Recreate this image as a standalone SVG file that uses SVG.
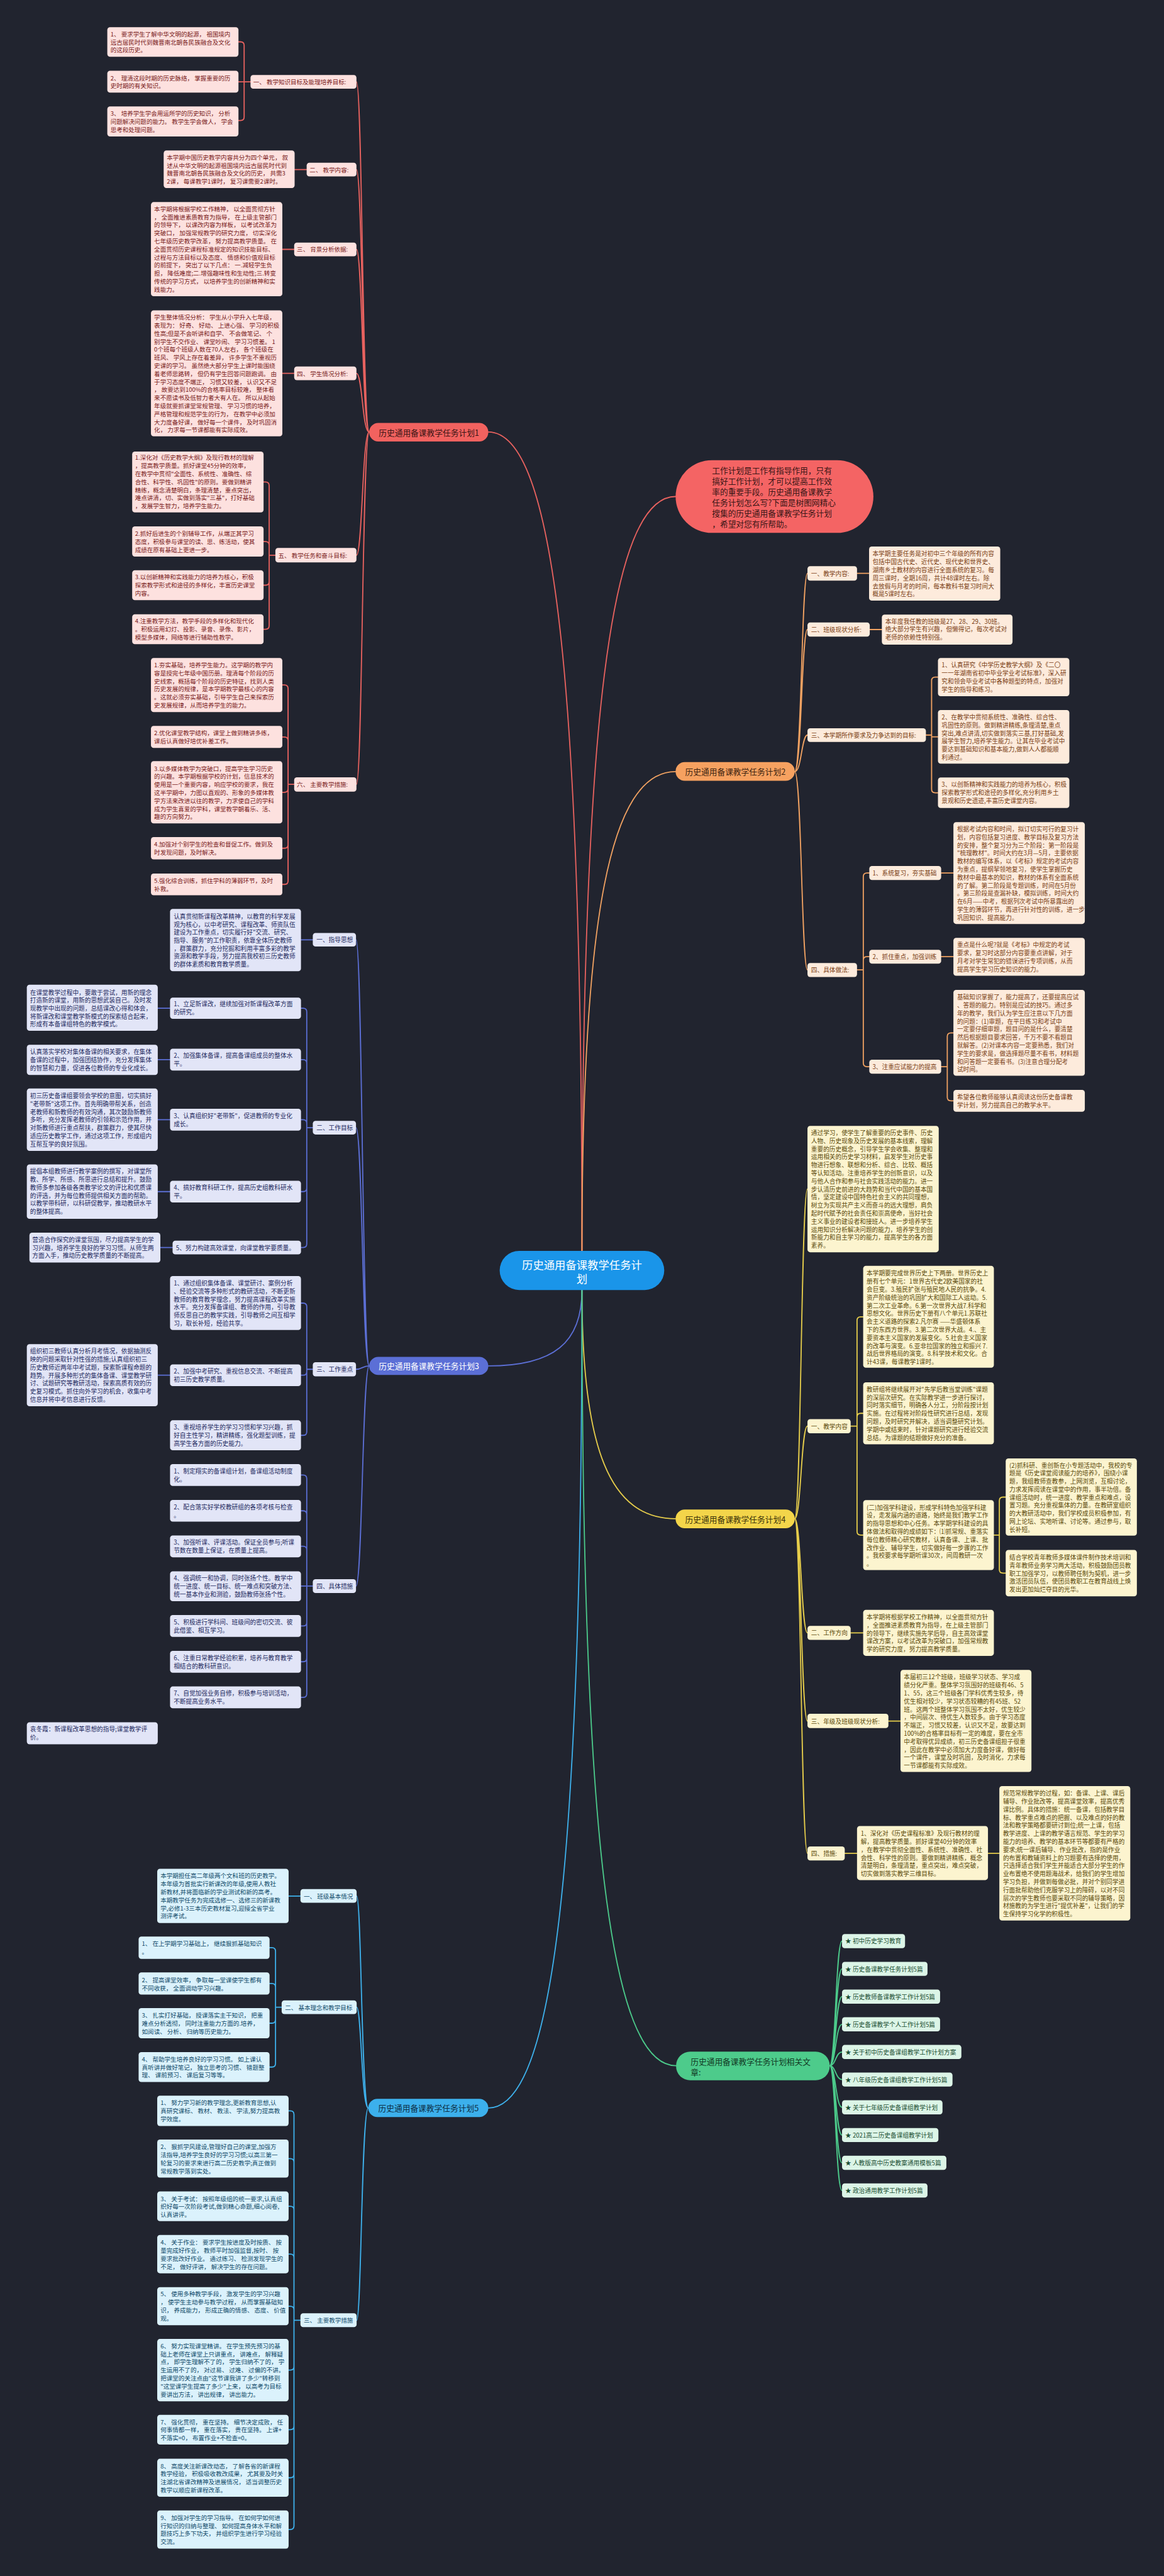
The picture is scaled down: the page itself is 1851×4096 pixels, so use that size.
<svg xmlns="http://www.w3.org/2000/svg" width="1851" height="4096" viewBox="0 0 1851 4096">
<style>
.t{font-family:"Noto Sans CJK SC","Noto Sans",sans-serif;dominant-baseline:central}
.s{font-size:13.4px}.s1{font-size:13.2px}.lb{font-size:17.6px}
.k{fill:none;stroke-width:2.5;stroke-linecap:round}
.k1{stroke:#e8625f}.k2{stroke:#f1a262}.k3{stroke:#5c6fd5}.k4{stroke:#e6cd4b}.k5{stroke:#3eb1ec}.k6{stroke:#4ccb8b}
.f1{fill:#fde1df}.x1{fill:#7a1b1b}
.f2{fill:#fdebdc}.x2{fill:#7b3f14}
.f3{fill:#e2e5f7}.x3{fill:#1e2a60}
.f4{fill:#fcf4cf}.x4{fill:#5b4a0a}
.f5{fill:#dbf2fc}.x5{fill:#0f4a69}
.f6{fill:#dcf5e7}.x6{fill:#1b4f33}
</style>
<rect width="1851" height="4096" fill="#21242f"/>
<g transform="scale(0.723)">
<g id="connectors">
<path class="k k1" d="M1280,2751 C1280,1490 1218,950 1074,950"/>
<path class="k k1" d="M1280,2751 C1280,1590 1342,1092 1486,1092"/>
<path class="k k2" d="M1280,2751 C1280,2013 1342,1697 1486,1697"/>
<path class="k k3" d="M1280,2837 C1280,2953 1218,3004 1074,3004"/>
<path class="k k4" d="M1280,2837 C1280,3189 1342,3340 1486,3340"/>
<path class="k k5" d="M1280,2837 C1280,4097 1218,4636 1074,4636"/>
<path class="k k6" d="M1280,2837 C1280,4036 1342,4543 1487,4543"/>
<path class="k k1" d="M812,950 C797,950 797,180 784,180 M812,950 C797,950 797,373 784,373 M812,950 C797,950 797,548.4 784,548.4 M812,950 C797,950 797,821 784,821 M812,950 C797,950 797,1221 784,1221 M812,950 C797,950 797,1725 784,1725"/>
<path class="k k1" d="M551,180 H537 V100 Q537,92 529,92 H524.5 M551,180 H524.5 M551,180 H537 V257 Q537,265 529,265 H524.5 M674.5,373 H648 M647,548.4 H621 M647,821 H621"/>
<path class="k k1" d="M605.7,1221 H592 V1068 Q592,1060 584,1060 H579.6 M605.7,1221 H592 V1199 Q592,1191 584,1191 H579.6 M605.7,1221 H592 V1279 Q592,1287 584,1287 H579.6 M605.7,1221 H592 V1376 Q592,1384 584,1384 H579.6"/>
<path class="k k1" d="M647,1725 H633.6 V1514.5 Q633.6,1506.5 625.6,1506.5 H621 M647,1725 H633.6 V1628.8 Q633.6,1620.8 625.6,1620.8 H621 M647,1725 H633.6 V1734.5 Q633.6,1742.5 625.6,1742.5 H621 M647,1725 H633.6 V1857.5 Q633.6,1865.5 625.6,1865.5 H621 M647,1725 H633.6 V1937 Q633.6,1945 625.6,1945 H621"/>
<path class="k k2" d="M1748,1697 C1763,1697 1763,1261 1776,1261 M1748,1697 C1763,1697 1763,1384.5 1776,1384.5 M1748,1697 C1763,1697 1763,1616.5 1776,1616.5 M1748,1697 C1763,1697 1763,2133 1776,2133"/>
<path class="k k2" d="M1885,1261 H1911.5 M1913,1384.5 H1939.6 M2036.5,1616.5 H2049 V1497 Q2049,1489 2057,1489 H2063 M2036.5,1616.5 H2049 V1620.6 H2063 M2036.5,1616.5 H2049 V1735.5 Q2049,1743.5 2057,1743.5 H2063"/>
<path class="k k2" d="M1885,2133 H1898.8 V1928 Q1898.8,1920 1906.8,1920 H1912 M1885,2133 H1898.8 V2112 Q1898.8,2104 1906.8,2104 H1912 M1885,2133 H1898.8 V2338 Q1898.8,2346 1906.8,2346 H1912 M2070,1920 H2097 M2070,2104 H2097 M2070,2346 H2083.5 V2279.5 Q2083.5,2271.5 2091.5,2271.5 H2097 M2070,2346 H2083.5 V2413 Q2083.5,2421 2091.5,2421 H2097"/>
<path class="k k3" d="M812,3004 C797,3004 797,2067 783,2067 M812,3004 C797,3004 797,2480 783,2480 M812,3004 C797,3004 797,3011.4 783,3011.4 M812,3004 C797,3004 797,3488 783,3488"/>
<path class="k k3" d="M688,2067 H662 M688,2480 H674.7 V2225.3 Q674.7,2217.3 666.7,2217.3 H662 M688,2480 H674.7 V2338.5 Q674.7,2330.5 666.7,2330.5 H662 M688,2480 H674.7 V2470.4 Q674.7,2462.4 666.7,2462.4 H662 M688,2480 H674.7 V2612.7 Q674.7,2620.7 666.7,2620.7 H662 M688,2480 H674.7 V2735.6 Q674.7,2743.6 666.7,2743.6 H662 M374,2217.3 H347 M374,2330.5 H347 M374,2462.4 H347 M374,2620.7 H347 M379.6,2743.6 H352.7"/>
<path class="k k3" d="M688,3011.4 H674.7 V2873.8 Q674.7,2865.8 666.7,2865.8 H662 M688,3011.4 H674.7 V3016.5 Q674.7,3024.5 666.7,3024.5 H662 M688,3011.4 H674.7 V3148.6 Q674.7,3156.6 666.7,3156.6 H662 M374,3024.5 H347"/>
<path class="k k3" d="M688,3488 H674.7 V3252 Q674.7,3244 666.7,3244 H662 M688,3488 H674.7 V3330.6 Q674.7,3322.6 666.7,3322.6 H662 M688,3488 H674.7 V3408.7 Q674.7,3400.7 666.7,3400.7 H662 M688,3488 H662 M688,3488 H674.7 V3568 Q674.7,3576 666.7,3576 H662 M688,3488 H674.7 V3646.6 Q674.7,3654.6 666.7,3654.6 H662 M688,3488 H674.7 V3725 Q674.7,3733 666.7,3733 H662"/>
<path class="k k4" d="M1748,3340 C1762,3340 1762,2615 1776,2615 M1748,3340 C1762,3340 1762,3136.5 1776,3136.5 M1748,3340 C1762,3340 1762,3591 1776,3591 M1748,3340 C1762,3340 1762,3785 1776,3785 M1748,3340 C1762,3340 1762,4076 1776,4076"/>
<path class="k k4" d="M1870.8,3136.5 H1885 V2904 Q1885,2896 1893,2896 H1898.5 M1870.8,3136.5 H1885 V3116.2 Q1885,3108.2 1893,3108.2 H1898.5 M1870.8,3136.5 H1885 V3368 Q1885,3376 1893,3376 H1898.5 M2186,3376 H2198 V3300.5 Q2198,3292.5 2206,3292.5 H2212 M2186,3376 H2198 V3451.6 Q2198,3459.6 2206,3459.6 H2212 M1870.8,3591 H1898.5 M1954,3785 H1980.6 M1858,4076 H1885 M2173,4076 H2198"/>
<path class="k k5" d="M810,4636 C795,4636 795,4170 784.4,4170 M810,4636 C795,4636 795,4414.5 784.4,4414.5 M810,4636 C795,4636 795,5103 784.4,5103"/>
<path class="k k5" d="M660.8,4170 H634.8 M619.5,4414.5 H606 V4291.5 Q606,4283.5 598,4283.5 H593 M619.5,4414.5 H606 V4370.2 Q606,4362.2 598,4362.2 H593 M619.5,4414.5 H606 V4441.5 Q606,4449.5 598,4449.5 H593 M619.5,4414.5 H606 V4538 Q606,4546 598,4546 H593"/>
<path class="k k5" d="M660.8,5103 H646.6 V4650.3 Q646.6,4642.3 638.6,4642.3 H634.8 M660.8,5103 H646.6 V4755.3 Q646.6,4747.3 638.6,4747.3 H634.8 M660.8,5103 H646.6 V4860.2 Q646.6,4852.2 638.6,4852.2 H634.8 M660.8,5103 H646.6 V4965.4 Q646.6,4957.4 638.6,4957.4 H634.8 M660.8,5103 H646.6 V5080 Q646.6,5072 638.6,5072 H634.8 M660.8,5103 H646.6 V5204.5 Q646.6,5212.5 638.6,5212.5 H634.8 M660.8,5103 H646.6 V5335.5 Q646.6,5343.5 638.6,5343.5 H634.8 M660.8,5103 H646.6 V5441.2 Q646.6,5449.2 638.6,5449.2 H634.8 M660.8,5103 H646.6 V5555 Q646.6,5563 638.6,5563 H634.8"/>
<path class="k k6" d="M1825,4543 C1838,4543 1838,4269 1852,4269 M1825,4543 C1838,4543 1838,4330 1852,4330 M1825,4543 C1838,4543 1838,4391 1852,4391 M1825,4543 C1838,4543 1838,4452 1852,4452 M1825,4543 C1838,4543 1838,4513 1852,4513 M1825,4543 C1838,4543 1838,4573.5 1852,4573.5 M1825,4543 C1838,4543 1838,4634.5 1852,4634.5 M1825,4543 C1838,4543 1838,4695.5 1852,4695.5 M1825,4543 C1838,4543 1838,4756.5 1852,4756.5 M1825,4543 C1838,4543 1838,4817.5 1852,4817.5"/>
</g>

<g id="center"><rect x="1099" y="2751" width="362" height="86" rx="43" fill="#1a95e9"/><text class="t" font-size="24" fill="#ffffff" text-anchor="middle" x="1280" y="2780"><tspan x="1280">历史通用备课教学任务计</tspan><tspan x="1280" dy="30">划</tspan></text></g>

<g id="summary"><rect x="1486" y="1012" width="435" height="160" rx="80" fill="#f46464"/><text class="t lb" fill="#3a1616" x="1566" y="1033"><tspan x="1566">工作计划是工作有指导作用，只有</tspan><tspan x="1566" dy="23.6">搞好工作计划，才可以提高工作效</tspan><tspan x="1566" dy="23.6">率的重要手段。历史通用备课教学</tspan><tspan x="1566" dy="23.6">任务计划怎么写?下面是树图网精心</tspan><tspan x="1566" dy="23.6">搜集的历史通用备课教学任务计划</tspan><tspan x="1566" dy="23.6">，希望对您有所帮助。</tspan></text></g>

<g id="branch1"><rect x="812" y="930" width="262" height="41" rx="20" fill="#f2625f"/><text class="t lb" fill="#3a1414" x="833" y="950.5">历史通用备课教学任务计划1</text></g>
<g id="branch2"><rect x="1486" y="1676" width="262" height="41" rx="20" fill="#f6a160"/><text class="t lb" fill="#3d2410" x="1507" y="1697">历史通用备课教学任务计划2</text></g>
<g id="branch3"><rect x="812" y="2984" width="262" height="40" rx="20" fill="#5b6fd6"/><text class="t lb" fill="#ffffff" x="833" y="3004">历史通用备课教学任务计划3</text></g>
<g id="branch4"><rect x="1486" y="3320" width="262" height="41" rx="20" fill="#f3d54a"/><text class="t lb" fill="#3d340a" x="1507" y="3340.5">历史通用备课教学任务计划4</text></g>
<g id="branch5"><rect x="810" y="4616" width="264" height="40" rx="20" fill="#3cb0ec"/><text class="t lb" fill="#0d2f45" x="832" y="4636">历史通用备课教学任务计划5</text></g>
<g id="branch6"><rect x="1487" y="4512" width="338" height="63" rx="31" fill="#4dcb8b"/><text class="t lb" fill="#123a25" x="1519" y="4532"><tspan x="1519">历史通用备课教学任务计划相关文</tspan><tspan x="1519" dy="23.5">章:</tspan></text></g>

<g id="b1-l1"><rect class="f1" x="551" y="165" width="233" height="30" rx="6"/><text class="t s1 x1" x="557" y="180">一、 教学知识目标及能理培养目标:</text></g>
<g id="b1-1a"><rect class="f1" x="236" y="59.7" width="288.5" height="65" rx="6"/><text class="t s1 x1" x="243" y="74.5"><tspan x="243">1、 要求学生了解中华文明的起源， 祖国境内</tspan><tspan x="243" dy="17.5">远古居民时代到魏晋南北朝各民族融合及文化</tspan><tspan x="243" dy="17.5">的这段历史。</tspan></text></g>
<g id="b1-1b"><rect class="f1" x="236" y="155.6" width="288.5" height="48.2" rx="6"/><text class="t s1 x1" x="243" y="171"><tspan x="243">2、 理清这段时期的历史脉络， 掌握重要的历</tspan><tspan x="243" dy="17.5">史时期的有关知识。</tspan></text></g>
<g id="b1-1c"><rect class="f1" x="236" y="234" width="288.5" height="66" rx="6"/><text class="t s1 x1" x="243" y="249.6"><tspan x="243">3、 培养学生学会用运所学的历史知识， 分析</tspan><tspan x="243" dy="17.5">问题解决问题的能力。 教学生学会做人， 学会</tspan><tspan x="243" dy="17.5">思考和处理问题。</tspan></text></g>
<g id="b1-l2"><rect class="f1" x="674.5" y="358" width="109.5" height="30" rx="6"/><text class="t s1 x1" x="681" y="373">二、 教学内容:</text></g>
<g id="b1-2"><rect class="f1" x="360" y="331" width="288" height="82.5" rx="6"/><text class="t s1 x1" x="367" y="345.5"><tspan x="367">本学期中国历史教学内容共分为四个单元， 叙</tspan><tspan x="367" dy="17.7">述从中华文明的起源祖国境内远古居民时代到</tspan><tspan x="367" dy="17.7">魏晋南北朝各民族融合及文化的历史， 共需3</tspan><tspan x="367" dy="17.7">2课， 每课教学1课时， 复习课需要2课时。</tspan></text></g>
<g id="b1-l3"><rect class="f1" x="647" y="533.6" width="137" height="30" rx="6"/><text class="t s1 x1" x="653" y="548.4">三、 背景分析依据:</text></g>
<g id="b1-3"><rect class="f1" x="332" y="444.5" width="289" height="207" rx="6"/><text class="t s1 x1" x="339" y="459"><tspan x="339">本学期将根据学校工作精神， 以全面贯彻方针</tspan><tspan x="339" dy="17.7">， 全面推进素质教育为指导， 在上级主管部门</tspan><tspan x="339" dy="17.7">的领导下， 以课改内容为样板， 以考试改革为</tspan><tspan x="339" dy="17.7">突破口， 加强常规教学的研究力度， 切实深化</tspan><tspan x="339" dy="17.7">七年级历史教学改革， 努力提高教学质量。 在</tspan><tspan x="339" dy="17.7">全面贯彻历史课程标准规定的知识技能目标、</tspan><tspan x="339" dy="17.7">过程与方法目标以及态度、 情感和价值观目标</tspan><tspan x="339" dy="17.7">的前提下， 突出了以下几点： 一.减轻学生负</tspan><tspan x="339" dy="17.7">担， 降低难度;二.增强趣味性和生动性;三.转变</tspan><tspan x="339" dy="17.7">传统的学习方式， 以培养学生的创新精神和实</tspan><tspan x="339" dy="17.7">践能力。</tspan></text></g>
<g id="b1-l4"><rect class="f1" x="647" y="806" width="137" height="30" rx="6"/><text class="t s1 x1" x="653" y="821">四、 学生情况分析:</text></g>
<g id="b1-4"><rect class="f1" x="332" y="682.6" width="289" height="277" rx="6"/><text class="t s1 x1" x="339" y="697.5"><tspan x="339">学生整体情况分析： 学生从小学升入七年级，</tspan><tspan x="339" dy="17.7">表现为： 好奇、 好动、 上进心强、 学习的积极</tspan><tspan x="339" dy="17.7">性高;但是不会听讲和自学、 不会做笔记、 个</tspan><tspan x="339" dy="17.7">别学生不交作业、 课堂吵闹、 学习习惯差。 1</tspan><tspan x="339" dy="17.7">0个班每个班级人数在70人左右， 各个班级在</tspan><tspan x="339" dy="17.7">班风、 学风上存在着差异， 许多学生不重视历</tspan><tspan x="339" dy="17.7">史课的学习。 虽然绝大部分学生上课时能围绕</tspan><tspan x="339" dy="17.7">着老师思路转， 但仍有学生回答问题跑调。 由</tspan><tspan x="339" dy="17.7">于学习态度不端正， 习惯又较差， 认识又不足</tspan><tspan x="339" dy="17.7">， 故要达到100%的合格率目标较难， 整体看</tspan><tspan x="339" dy="17.7">来不愿读书及低智力者大有人在。 所以从起始</tspan><tspan x="339" dy="17.7">年级就要抓课堂常规管理、 学习习惯的培养，</tspan><tspan x="339" dy="17.7">严格管理和规范学生的行为， 在教学中必须加</tspan><tspan x="339" dy="17.7">大力度备好课， 做好每一个课件， 及时巩固消</tspan><tspan x="339" dy="17.7">化， 力求每一节课都能有实际成效。</tspan></text></g>
<g id="b1-l5"><rect class="f1" x="605.7" y="1205" width="178.3" height="32" rx="6"/><text class="t s1 x1" x="612" y="1221">五、 教学任务和奋斗目标:</text></g>
<g id="b1-5a"><rect class="f1" x="290.7" y="993" width="289" height="134" rx="6"/><text class="t s1 x1" x="297" y="1006"><tspan x="297">1.深化对《历史教学大纲》及现行教材的理解</tspan><tspan x="297" dy="17.7">，提高教学质量。抓好课堂45分钟的效率，</tspan><tspan x="297" dy="17.7">在教学中贯彻"全面性、系统性、准确性、综</tspan><tspan x="297" dy="17.7">合性、科学性、巩固性"的原则。要做到精讲</tspan><tspan x="297" dy="17.7">精练，概念清楚明白，条理清楚，重点突出，</tspan><tspan x="297" dy="17.7">难点讲清，切、实做到落实"三基"，打好基础</tspan><tspan x="297" dy="17.7">，发展学生智力，培养学生能力。</tspan></text></g>
<g id="b1-5b"><rect class="f1" x="290.7" y="1157.7" width="289" height="66.3" rx="6"/><text class="t s1 x1" x="297" y="1173"><tspan x="297">2.抓好后进生的个别辅导工作，从端正其学习</tspan><tspan x="297" dy="17.7">态度，积极参与课堂的读、思、练活动，使其</tspan><tspan x="297" dy="17.7">成绩在原有基础上更进一步。</tspan></text></g>
<g id="b1-5c"><rect class="f1" x="290.7" y="1254" width="289" height="66" rx="6"/><text class="t s1 x1" x="297" y="1269"><tspan x="297">3.以创新精神和实践能力的培养为核心，积极</tspan><tspan x="297" dy="17.7">探索教学形式和途径的多样化，丰富历史课堂</tspan><tspan x="297" dy="17.7">内容。</tspan></text></g>
<g id="b1-5d"><rect class="f1" x="290.7" y="1351" width="289" height="65.7" rx="6"/><text class="t s1 x1" x="297" y="1365.6"><tspan x="297">4.注重教学方法，教学手段的多样化和现代化</tspan><tspan x="297" dy="17.7">。积极运用幻灯、投影、录音、录像、影片，</tspan><tspan x="297" dy="17.7">模型多媒体，网络等进行辅助性教学。</tspan></text></g>
<g id="b1-l6"><rect class="f1" x="647" y="1709.4" width="137" height="31.6" rx="6"/><text class="t s1 x1" x="653" y="1725">六、 主要教学措施:</text></g>
<g id="b1-6a"><rect class="f1" x="332" y="1447" width="289" height="119" rx="6"/><text class="t s1 x1" x="339" y="1462"><tspan x="339">1.夯实基础，培养学生能力。这学期的教学内</tspan><tspan x="339" dy="17.7">容是授完七年级中国历册。理清每个阶段的历</tspan><tspan x="339" dy="17.7">史线索，概括每个阶段的历史特征，找到人类</tspan><tspan x="339" dy="17.7">历史发展的规律，是本学期教学最核心的内容</tspan><tspan x="339" dy="17.7">。这就必须夯实基础，引导学生自己来探索历</tspan><tspan x="339" dy="17.7">史发展规律，从而培养学生的能力。</tspan></text></g>
<g id="b1-6b"><rect class="f1" x="332" y="1596.5" width="289" height="48.5" rx="6"/><text class="t s1 x1" x="339" y="1611"><tspan x="339">2.优化课堂教学结构，课堂上做到精讲多练，</tspan><tspan x="339" dy="17.7">课后认真做好培优补差工作。</tspan></text></g>
<g id="b1-6c"><rect class="f1" x="332" y="1674" width="289" height="137" rx="6"/><text class="t s1 x1" x="339" y="1689.6"><tspan x="339">3.以多媒体教学为突破口，提高学生学习历史</tspan><tspan x="339" dy="17.7">的兴趣。本学期根据学校的计划，信息技术的</tspan><tspan x="339" dy="17.7">使用是一个重要内容，响应学校的要求，我在</tspan><tspan x="339" dy="17.7">这半学期中，力图以直观的、形象的多媒体教</tspan><tspan x="339" dy="17.7">学方法来改进以往的教学，力求使自己的学科</tspan><tspan x="339" dy="17.7">成为学生喜爱的学科，课堂教学朝着乐、活、</tspan><tspan x="339" dy="17.7">趣的方向努力。</tspan></text></g>
<g id="b1-6d"><rect class="f1" x="332" y="1841" width="289" height="49" rx="6"/><text class="t s1 x1" x="339" y="1856.7"><tspan x="339">4.加强对个别学生的检查和督促工作。做到及</tspan><tspan x="339" dy="17.7">时发现问题，及时解决。</tspan></text></g>
<g id="b1-6e"><rect class="f1" x="332" y="1921" width="289" height="48" rx="6"/><text class="t s1 x1" x="339" y="1936"><tspan x="339">5.强化综合训练，抓住学科的薄弱环节，及时</tspan><tspan x="339" dy="17.7">补救。</tspan></text></g>

<g id="b2-l1"><rect class="f2" x="1776" y="1245" width="109" height="32" rx="6"/><text class="t s x2" x="1784" y="1261">一、教学内容:</text></g>
<g id="b2-1"><rect class="f2" x="1911.5" y="1202" width="288.5" height="119" rx="6"/><text class="t s x2" x="1919" y="1217.6"><tspan x="1919">本学期主要任务是对初中三个年级的所有内容</tspan><tspan x="1919" dy="17.7">包括中国古代史、近代史、现代史和世界史、</tspan><tspan x="1919" dy="17.7">湖南乡土教材的内容进行全面系统的复习。每</tspan><tspan x="1919" dy="17.7">周三课时，全期16周，共计48课时左右。除</tspan><tspan x="1919" dy="17.7">去放假与月考的时间，每本教科书复习时间大</tspan><tspan x="1919" dy="17.7">概是5课时左右。</tspan></text></g>
<g id="b2-l2"><rect class="f2" x="1776" y="1369" width="137" height="31" rx="6"/><text class="t s x2" x="1784" y="1384.5">二、班级现状分析:</text></g>
<g id="b2-2"><rect class="f2" x="1939.6" y="1351.6" width="287.4" height="66" rx="6"/><text class="t s x2" x="1947" y="1366"><tspan x="1947">本年度我任教的班级是27、28、29、30班。</tspan><tspan x="1947" dy="17.7">绝大部分学生有兴趣，但懒得记，每次考试对</tspan><tspan x="1947" dy="17.7">老师的依赖性特别强。</tspan></text></g>
<g id="b2-l3"><rect class="f2" x="1776" y="1601.7" width="260.5" height="30" rx="6"/><text class="t s x2" x="1784" y="1616.5">三、本学期所作要求及力争达到的目标:</text></g>
<g id="b2-3a"><rect class="f2" x="2063" y="1447" width="289" height="84" rx="6"/><text class="t s x2" x="2071" y="1462.5"><tspan x="2071">1、认真研究《中学历史教学大纲》及《二〇</tspan><tspan x="2071" dy="17.7">一一年湖南省初中毕业学业考试标准》，深入研</tspan><tspan x="2071" dy="17.7">究和领会毕业考试中各种题型的特点，加强对</tspan><tspan x="2071" dy="17.7">学生的指导和练习。</tspan></text></g>
<g id="b2-3b"><rect class="f2" x="2063" y="1561.6" width="289" height="118" rx="6"/><text class="t s x2" x="2071" y="1576.7"><tspan x="2071">2、在教学中贯彻系统性、准确性、综合性、</tspan><tspan x="2071" dy="17.7">巩固性的原则。做到精讲精练,条理清楚,重点</tspan><tspan x="2071" dy="17.7">突出,难点讲清,切实做到落实三基,打好基础,发</tspan><tspan x="2071" dy="17.7">展学生智力,培养学生能力。让其在毕业考试中</tspan><tspan x="2071" dy="17.7">要达到基础知识和基本能力,做到人人都能顺</tspan><tspan x="2071" dy="17.7">利通过。</tspan></text></g>
<g id="b2-3c"><rect class="f2" x="2063" y="1710" width="289" height="67" rx="6"/><text class="t s x2" x="2071" y="1725"><tspan x="2071">3、以创新精神和实践能力的培养为核心，积极</tspan><tspan x="2071" dy="17.7">探索教学形式和途径的多样化,充分利用乡土</tspan><tspan x="2071" dy="17.7">景观和历史遗迹,丰富历史课堂内容。</tspan></text></g>
<g id="b2-l4"><rect class="f2" x="1776" y="2118" width="109" height="30.6" rx="6"/><text class="t s x2" x="1784" y="2133">四、具体做法:</text></g>
<g id="b2-4a"><rect class="f2" x="1912" y="1904.6" width="158" height="30.6" rx="6"/><text class="t s x2" x="1919" y="1920">1、系统复习，夯实基础</text></g>
<g id="b2-4b"><rect class="f2" x="1912" y="2088.7" width="158" height="30.6" rx="6"/><text class="t s x2" x="1919" y="2104">2、抓住重点，加强训练</text></g>
<g id="b2-4c"><rect class="f2" x="1912" y="2330.7" width="158" height="30.6" rx="6"/><text class="t s x2" x="1919" y="2346">3、注重应试能力的提高</text></g>
<g id="b2-4a1"><rect class="f2" x="2097" y="1808" width="289" height="224" rx="6"/><text class="t s x2" x="2105" y="1823"><tspan x="2105">根据考试内容和时间，拟订切实可行的复习计</tspan><tspan x="2105" dy="17.7">划，内容包括复习进度、教学目标及复习方法</tspan><tspan x="2105" dy="17.7">的安排，整个复习分为三个阶段：第一阶段是</tspan><tspan x="2105" dy="17.7">"梳理教材"。时间大约在3月—5月，主要依据</tspan><tspan x="2105" dy="17.7">教材的编写体系，以《考标》规定的考试内容</tspan><tspan x="2105" dy="17.7">为重点，提纲挈领地复习，使学生掌握历史</tspan><tspan x="2105" dy="17.7">教材中最基本的知识，教材的体系有全面系统</tspan><tspan x="2105" dy="17.7">的了解。第二阶段是专题训练，时间在5月份</tspan><tspan x="2105" dy="17.7">。第三阶段是查漏补缺，模拟训练，时间大约</tspan><tspan x="2105" dy="17.7">在6月——中考，根据列次考试中所暴露出的</tspan><tspan x="2105" dy="17.7">学生的薄弱环节，再进行针对性的训练，进一步</tspan><tspan x="2105" dy="17.7">巩固知识、提高能力。</tspan></text></g>
<g id="b2-4b1"><rect class="f2" x="2097" y="2062.7" width="289" height="83.3" rx="6"/><text class="t s x2" x="2105" y="2078"><tspan x="2105">重点是什么呢?就是《考标》中规定的考试</tspan><tspan x="2105" dy="17.7">要求，复习时这部分内容要重点讲解，对于</tspan><tspan x="2105" dy="17.7">月考对学生常犯的错误进行专项训练，从而</tspan><tspan x="2105" dy="17.7">提高学生学习历史知识的能力。</tspan></text></g>
<g id="b2-4c1"><rect class="f2" x="2097" y="2177" width="289" height="189" rx="6"/><text class="t s x2" x="2105" y="2192.5"><tspan x="2105">基础知识掌握了，能力提高了，还要提高应试</tspan><tspan x="2105" dy="17.7">、答题的能力。特别是应试的技巧。通过多</tspan><tspan x="2105" dy="17.7">年的教学，我们认为学生应注意以下几方面</tspan><tspan x="2105" dy="17.7">的问题：(1)审题，在平日练习和考试中</tspan><tspan x="2105" dy="17.7">一定要仔细审题，题目问的是什么，要清楚</tspan><tspan x="2105" dy="17.7">然后根据题目要求回答，千万不要不看题目</tspan><tspan x="2105" dy="17.7">就解答。(2)对课本内容一定要熟悉，我们对</tspan><tspan x="2105" dy="17.7">学生的要求是，做选择题尽量不看书，材料题</tspan><tspan x="2105" dy="17.7">和问答题一定要看书。(3)注意合理分配考</tspan><tspan x="2105" dy="17.7">试时间。</tspan></text></g>
<g id="b2-4c2"><rect class="f2" x="2097" y="2397" width="289" height="48" rx="6"/><text class="t s x2" x="2105" y="2412"><tspan x="2105">希望各位教师能够认真阅读这份历史备课教</tspan><tspan x="2105" dy="17.7">学计划，努力提高自己的教学水平。</tspan></text></g>

<g id="b3-l1"><rect class="f3" x="688" y="2051.7" width="95" height="30" rx="6"/><text class="t s x3" x="696" y="2067">一、指导思想</text></g>
<g id="b3-1"><rect class="f3" x="374" y="1999" width="288" height="137" rx="6"/><text class="t s x3" x="382" y="2015"><tspan x="382">认真贯彻新课程改革精神，以教育的科学发展</tspan><tspan x="382" dy="17.6">观为核心，以中考研究、课程改革、师资队伍</tspan><tspan x="382" dy="17.6">建设为工作重点，切实履行好"交流、研究、</tspan><tspan x="382" dy="17.6">指导、服务"的工作职责，依靠全体历史教师</tspan><tspan x="382" dy="17.6">，群策群力，充分挖掘和利用丰富多彩的教学</tspan><tspan x="382" dy="17.6">资源和教学手段，努力提高我校初三历史教师</tspan><tspan x="382" dy="17.6">的群体素质和教育教学质量。</tspan></text></g>
<g id="b3-l2"><rect class="f3" x="688" y="2465" width="95" height="30" rx="6"/><text class="t s x3" x="696" y="2480">二、工作目标</text></g>
<g id="b3-2a"><rect class="f3" x="374" y="2194" width="288" height="46.6" rx="6"/><text class="t s x3" x="382" y="2208"><tspan x="382">1、立足新课改，继续加强对新课程改革方面</tspan><tspan x="382" dy="17.6">的研究。</tspan></text></g>
<g id="b3-2b"><rect class="f3" x="374" y="2306.5" width="288" height="48" rx="6"/><text class="t s x3" x="382" y="2321.5"><tspan x="382">2、加强集体备课，提高备课组成员的整体水</tspan><tspan x="382" dy="17.6">平。</tspan></text></g>
<g id="b3-2c"><rect class="f3" x="374" y="2438.4" width="288" height="48" rx="6"/><text class="t s x3" x="382" y="2453.4"><tspan x="382">3、认真组织好"老带新"，促进教师的专业化</tspan><tspan x="382" dy="17.6">成长。</tspan></text></g>
<g id="b3-2d"><rect class="f3" x="374" y="2596.7" width="288" height="48" rx="6"/><text class="t s x3" x="382" y="2612"><tspan x="382">4、搞好教育科研工作，提高历史组教科研水</tspan><tspan x="382" dy="17.6">平。</tspan></text></g>
<g id="b3-2e"><rect class="f3" x="379.6" y="2728.6" width="282.4" height="30" rx="6"/><text class="t s x3" x="387" y="2743.6">5、努力构建高效课堂，向课堂教学要质量。</text></g>
<g id="b3-2a1"><rect class="f3" x="59" y="2165.7" width="288" height="101.3" rx="6"/><text class="t s x3" x="66" y="2182"><tspan x="66">在课堂教学过程中，要敢于尝试，用新的理念</tspan><tspan x="66" dy="17.6">打造新的课堂，用新的思想武装自己。及时发</tspan><tspan x="66" dy="17.6">现教学中出现的问题，总结课改心得和体会，</tspan><tspan x="66" dy="17.6">将新课改和课堂教学新模式的探索结合起来，</tspan><tspan x="66" dy="17.6">形成有本备课组特色的教学模式。</tspan></text></g>
<g id="b3-2b1"><rect class="f3" x="59" y="2297.6" width="288" height="66.4" rx="6"/><text class="t s x3" x="66" y="2313"><tspan x="66">认真落实学校对集体备课的相关要求，在集体</tspan><tspan x="66" dy="17.6">备课的过程中，加强团结协作，充分发挥集体</tspan><tspan x="66" dy="17.6">的智慧和力量，促进各位教师的专业化成长。</tspan></text></g>
<g id="b3-2c1"><rect class="f3" x="59" y="2394" width="288" height="137" rx="6"/><text class="t s x3" x="66" y="2409.7"><tspan x="66">初三历史备课组要领会学校的意图，切实搞好</tspan><tspan x="66" dy="17.6">"老带新"这项工作。首先明确带帮关系，创造</tspan><tspan x="66" dy="17.6">老教师和新教师的有效沟通，其次鼓励新教师</tspan><tspan x="66" dy="17.6">多听，充分发挥老教师的引领和示范作用，并</tspan><tspan x="66" dy="17.6">对新教师进行重点帮扶，群策群力，使其尽快</tspan><tspan x="66" dy="17.6">适应历史教学工作，通过这项工作，形成组内</tspan><tspan x="66" dy="17.6">互帮互学的良好氛围。</tspan></text></g>
<g id="b3-2d1"><rect class="f3" x="59" y="2561" width="288" height="119.6" rx="6"/><text class="t s x3" x="66" y="2576"><tspan x="66">提倡本组教师进行教学案例的撰写，对课堂所</tspan><tspan x="66" dy="17.6">教、所学、所感、所思进行总结和提升。鼓励</tspan><tspan x="66" dy="17.6">教师多参加各级各类教学论文的评比和优质课</tspan><tspan x="66" dy="17.6">的评选，并为每位教师提供相关方面的帮助。</tspan><tspan x="66" dy="17.6">以教学带科研，以科研促教学，推动教研水平</tspan><tspan x="66" dy="17.6">的整体提高。</tspan></text></g>
<g id="b3-2e1"><rect class="f3" x="64.7" y="2711" width="288" height="65.6" rx="6"/><text class="t s x3" x="71" y="2726"><tspan x="71">营造合作探究的课堂氛围，尽力提高学生的学</tspan><tspan x="71" dy="17.6">习兴趣，培养学生良好的学习习惯。从师生两</tspan><tspan x="71" dy="17.6">方面入手，推动历史教学质量的不断提高。</tspan></text></g>
<g id="b3-l3"><rect class="f3" x="688" y="2995.7" width="95" height="31.3" rx="6"/><text class="t s x3" x="696" y="3011.4">三、工作重点</text></g>
<g id="b3-3a"><rect class="f3" x="374" y="2806.5" width="288" height="118.5" rx="6"/><text class="t s x3" x="382" y="2822"><tspan x="382">1、通过组织集体备课、课堂研讨、案例分析</tspan><tspan x="382" dy="17.6">、经验交流等多种形式的教研活动，不断更新</tspan><tspan x="382" dy="17.6">教师的教育教学理念，努力提高课程改革实施</tspan><tspan x="382" dy="17.6">水平。充分发挥备课组、教师的作用，引导教</tspan><tspan x="382" dy="17.6">师反思自己的教学实践，引导教师之间互相学</tspan><tspan x="382" dy="17.6">习，取长补短，经验共享。</tspan></text></g>
<g id="b3-3b"><rect class="f3" x="374" y="3000.6" width="288" height="47.8" rx="6"/><text class="t s x3" x="382" y="3015.7"><tspan x="382">2、加强中考研究、重视信息交流、不断提高</tspan><tspan x="382" dy="17.6">初三历史教学质量。</tspan></text></g>
<g id="b3-3b1"><rect class="f3" x="59" y="2956" width="288" height="136.7" rx="6"/><text class="t s x3" x="66" y="2971.5"><tspan x="66">组织初三教师认真分析月考情况，依据抽测反</tspan><tspan x="66" dy="17.6">映的问题采取针对性强的措施;认真组织初三</tspan><tspan x="66" dy="17.6">历史教师近两年中考试题，探索新课程命题的</tspan><tspan x="66" dy="17.6">趋势。开展多种形式的集体备课、课堂教学研</tspan><tspan x="66" dy="17.6">讨、试题研究等教研活动，探索高质有效的历</tspan><tspan x="66" dy="17.6">史复习模式。抓住向外学习的机会，收集中考</tspan><tspan x="66" dy="17.6">信息并将中考信息进行反馈。</tspan></text></g>
<g id="b3-3c"><rect class="f3" x="374" y="3123.6" width="288" height="66" rx="6"/><text class="t s x3" x="382" y="3138.7"><tspan x="382">3、重视培养学生的学习习惯和学习兴趣，抓</tspan><tspan x="382" dy="17.6">好自主性学习，精讲精练，强化题型训练，提</tspan><tspan x="382" dy="17.6">高学生各方面的历史能力。</tspan></text></g>
<g id="b3-l4"><rect class="f3" x="688" y="3473" width="95" height="30.5" rx="6"/><text class="t s x3" x="696" y="3488">四、具体措施</text></g>
<g id="b3-4a"><rect class="f3" x="374" y="3220" width="288" height="48" rx="6"/><text class="t s x3" x="382" y="3235"><tspan x="382">1、制定翔实的备课组计划，备课组活动制度</tspan><tspan x="382" dy="17.6">化。</tspan></text></g>
<g id="b3-4b"><rect class="f3" x="374" y="3298.7" width="288" height="47.8" rx="6"/><text class="t s x3" x="382" y="3313.8"><tspan x="382">2、配合落实好学校教研组的各项考核与检查</tspan><tspan x="382" dy="17.6">。</tspan></text></g>
<g id="b3-4c"><rect class="f3" x="374" y="3376.8" width="288" height="48" rx="6"/><text class="t s x3" x="382" y="3392"><tspan x="382">3、加强听课、评课活动。保证全员参与;听课</tspan><tspan x="382" dy="17.6">节数在数量上保证，在质量上提高。</tspan></text></g>
<g id="b3-4d"><rect class="f3" x="374" y="3455.6" width="288" height="66" rx="6"/><text class="t s x3" x="382" y="3470.7"><tspan x="382">4、强调统一和协调，同时张扬个性。教学中</tspan><tspan x="382" dy="17.6">统一进度、统一目标、统一难点和突破方法、</tspan><tspan x="382" dy="17.6">统一基本作业和测验，鼓励教师张扬个性。</tspan></text></g>
<g id="b3-4e"><rect class="f3" x="374" y="3552" width="288" height="48" rx="6"/><text class="t s x3" x="382" y="3567"><tspan x="382">5、积极进行学科间、班级间的密切交流、彼</tspan><tspan x="382" dy="17.6">此借鉴、相互学习。</tspan></text></g>
<g id="b3-4f"><rect class="f3" x="374" y="3630.7" width="288" height="48" rx="6"/><text class="t s x3" x="382" y="3645.8"><tspan x="382">6、注重日常教学经验积累，培养与教育教学</tspan><tspan x="382" dy="17.6">相结合的教科研意识。</tspan></text></g>
<g id="b3-4g"><rect class="f3" x="374" y="3709" width="288" height="48" rx="6"/><text class="t s x3" x="382" y="3724"><tspan x="382">7、自觉加强业务自修，积极参与培训活动，</tspan><tspan x="382" dy="17.6">不断提高业务水平。</tspan></text></g>
<g id="b3-5a"><rect class="f3" x="59" y="3787.6" width="288" height="48.4" rx="6"/><text class="t s x3" x="66" y="3802.8"><tspan x="66">袁冬霞：新课程改革思想的指导;课堂教学评</tspan><tspan x="66" dy="17.6">价。</tspan></text></g>

<g id="b4-0"><rect class="f4" x="1776" y="2476" width="288.7" height="278" rx="6"/><text class="t s x4" x="1784" y="2491"><tspan x="1784">通过学习，使学生了解重要的历史事件、历史</tspan><tspan x="1784" dy="17.7">人物、历史现象及历史发展的基本线索，理解</tspan><tspan x="1784" dy="17.7">重要的历史概念，引导学生学会收集、整理和</tspan><tspan x="1784" dy="17.7">运用相关的历史学习材料，启发学生对历史事</tspan><tspan x="1784" dy="17.7">物进行想象、联想和分析、综合、比较、概括</tspan><tspan x="1784" dy="17.7">等认知活动。注重培养学生的创新意识，以及</tspan><tspan x="1784" dy="17.7">与他人合作和参与社会实践活动的能力。进一</tspan><tspan x="1784" dy="17.7">步认清历史前进的大趋势和当代中国的基本国</tspan><tspan x="1784" dy="17.7">情，坚定建设中国特色社会主义的共同理想，</tspan><tspan x="1784" dy="17.7">树立为实现共产主义而奋斗的远大理想，肩负</tspan><tspan x="1784" dy="17.7">起时代赋予的社会责任和崇高使命，当好社会</tspan><tspan x="1784" dy="17.7">主义事业的建设者和接班人。进一步培养学生</tspan><tspan x="1784" dy="17.7">运用知识分析解决问题的能力，培养学生的创</tspan><tspan x="1784" dy="17.7">新能力和自主学习的能力，提高学生的各方面</tspan><tspan x="1784" dy="17.7">素养。</tspan></text></g>
<g id="b4-l1"><rect class="f4" x="1776" y="3121" width="95" height="31" rx="6"/><text class="t s x4" x="1784" y="3136.5">一、教学内容</text></g>
<g id="b4-1a"><rect class="f4" x="1898.5" y="2784" width="287.5" height="224" rx="6"/><text class="t s x4" x="1906" y="2800"><tspan x="1906">本学期要完成世界历史上下两册。世界历史上</tspan><tspan x="1906" dy="17.7">册有七个单元：1世界古代史2欧美国家的社</tspan><tspan x="1906" dy="17.7">会巨变。3.殖民扩张与殖民地人民的抗争。4.</tspan><tspan x="1906" dy="17.7">资产阶级统治的巩固扩大和国际工人运动。5.</tspan><tspan x="1906" dy="17.7">第二次工业革命。6.第一次世界大战7.科学和</tspan><tspan x="1906" dy="17.7">思想文化。世界历史下册有八个单元1.苏联社</tspan><tspan x="1906" dy="17.7">会主义道路的探索2.凡尔赛 ——华盛顿体系</tspan><tspan x="1906" dy="17.7">下的东西方世界。3.第二次世界大战。4.、主</tspan><tspan x="1906" dy="17.7">要资本主义国家的发展变化。5.社会主义国家</tspan><tspan x="1906" dy="17.7">的改革与演变。6.亚非拉国家的独立和振兴 7.</tspan><tspan x="1906" dy="17.7">战后世界格局的演变。8.科学技术和文化。合</tspan><tspan x="1906" dy="17.7">计43课，每课教学1课时。</tspan></text></g>
<g id="b4-1b"><rect class="f4" x="1898.5" y="3040" width="287.5" height="136.4" rx="6"/><text class="t s x4" x="1906" y="3055"><tspan x="1906">教研组将继续展开对"先学后教当堂训练"课题</tspan><tspan x="1906" dy="17.7">的深层次研究。在实际教学进一步进行探讨，</tspan><tspan x="1906" dy="17.7">同时落实细节，明确各人分工，分阶段按计划</tspan><tspan x="1906" dy="17.7">实施。在过程将对阶段性研究进行总结，发现</tspan><tspan x="1906" dy="17.7">问题，及时研究并解决，适当调整研究计划。</tspan><tspan x="1906" dy="17.7">学期中或结束时，针对课题研究进行经验交流</tspan><tspan x="1906" dy="17.7">总结。为课题的结题做好充分的准备。</tspan></text></g>
<g id="b4-1c"><rect class="f4" x="1898.5" y="3299" width="287.5" height="154" rx="6"/><text class="t s x4" x="1906" y="3314.8"><tspan x="1906">(二)加强学科建设，形成学科特色加强学科建</tspan><tspan x="1906" dy="17.7">设，走发展内涵的道路，始终是我们教学工作</tspan><tspan x="1906" dy="17.7">的指导思想和中心任务。本学期学科建设的具</tspan><tspan x="1906" dy="17.7">体做法和取得的成绩如下：⑴抓常规、重落实</tspan><tspan x="1906" dy="17.7">每位教师精心研究教材，认真备课、上课、批</tspan><tspan x="1906" dy="17.7">改作业、辅导学生，切实做好每一步骤的工作</tspan><tspan x="1906" dy="17.7">。我校要求每学期听课30次，间周教研一次</tspan><tspan x="1906" dy="17.7">。</tspan></text></g>
<g id="b4-1c1"><rect class="f4" x="2212" y="3207.4" width="288.5" height="170" rx="6"/><text class="t s x4" x="2220" y="3222"><tspan x="2220">(2)抓科研、重创新在小专题活动中，我校的专</tspan><tspan x="2220" dy="17.7">题是《历史课堂阅读能力的培养》，围绕小课</tspan><tspan x="2220" dy="17.7">题，我组教师查教参，上网浏览，互相讨论，</tspan><tspan x="2220" dy="17.7">力求发挥阅读在课堂中的作用，事半功倍。备</tspan><tspan x="2220" dy="17.7">课组活动时，统一进度、教学重点和难点，设</tspan><tspan x="2220" dy="17.7">置习题。充分重视集体的力量。在教研室组织</tspan><tspan x="2220" dy="17.7">的大教研活动中，我们学校成员积极参加，有</tspan><tspan x="2220" dy="17.7">网上论坛、实地听课、讨论等。通过参与，取</tspan><tspan x="2220" dy="17.7">长补短。</tspan></text></g>
<g id="b4-1c2"><rect class="f4" x="2212" y="3408.6" width="288.5" height="102" rx="6"/><text class="t s x4" x="2220" y="3424.6"><tspan x="2220">结合学校青年教师多媒体课件制作技术培训和</tspan><tspan x="2220" dy="17.7">青年教师业务学习两大活动，积极鼓励团员教</tspan><tspan x="2220" dy="17.7">职工加强学习，以教师聘任制为契机，进一步</tspan><tspan x="2220" dy="17.7">激活团员队伍，使团员教职工在教育战线上焕</tspan><tspan x="2220" dy="17.7">发出更加灿烂夺目的光华。</tspan></text></g>
<g id="b4-l2"><rect class="f4" x="1776" y="3575.6" width="95" height="31" rx="6"/><text class="t s x4" x="1784" y="3591">二、工作方向</text></g>
<g id="b4-2"><rect class="f4" x="1898.5" y="3540.6" width="287.5" height="101" rx="6"/><text class="t s x4" x="1906" y="3556"><tspan x="1906">本学期将根据学校工作精神，以全面贯彻方针</tspan><tspan x="1906" dy="17.7">，全面推进素质教育为指导，在上级主管部门</tspan><tspan x="1906" dy="17.7">的领导下，继续实施先学后导，自主高效课堂</tspan><tspan x="1906" dy="17.7">课改方案，以考试改革为突破口，加强常规教</tspan><tspan x="1906" dy="17.7">学的研究力度，努力提高教学质量。</tspan></text></g>
<g id="b4-l3"><rect class="f4" x="1776" y="3769" width="178" height="31.6" rx="6"/><text class="t s x4" x="1784" y="3785">三、年级及班级现状分析:</text></g>
<g id="b4-3"><rect class="f4" x="1980.6" y="3672.6" width="288" height="224.4" rx="6"/><text class="t s x4" x="1988" y="3688"><tspan x="1988">本届初三12个班级，班级学习状态、学习成</tspan><tspan x="1988" dy="17.7">绩分化严重。整体学习氛围好的班级有46、5</tspan><tspan x="1988" dy="17.7">1、55，这三个班级各门学科优秀生较多，待</tspan><tspan x="1988" dy="17.7">优生相对较少，学习状态较糟的有45班、52</tspan><tspan x="1988" dy="17.7">班。这两个班整体学习氛围不太好，优生较少</tspan><tspan x="1988" dy="17.7">，中间层次、待优生人数较多。由于学习态度</tspan><tspan x="1988" dy="17.7">不端正，习惯又较差，认识又不足，故要达到</tspan><tspan x="1988" dy="17.7">100%的合格率目标有一定的难度，要在全市</tspan><tspan x="1988" dy="17.7">中考取得优异成绩，初三历史备课组担子很重</tspan><tspan x="1988" dy="17.7">，因此在教学中必须加大力度备好课，做好每</tspan><tspan x="1988" dy="17.7">一个课件，课堂及时巩固，及时消化，力求每</tspan><tspan x="1988" dy="17.7">一节课都能有实际成效。</tspan></text></g>
<g id="b4-l4"><rect class="f4" x="1776" y="4060.7" width="82" height="31" rx="6"/><text class="t s x4" x="1784" y="4076">四、措施:</text></g>
<g id="b4-4"><rect class="f4" x="1885" y="4016" width="288" height="118.7" rx="6"/><text class="t s x4" x="1893" y="4032"><tspan x="1893">1、深化对《历史课程标准》及现行教材的理</tspan><tspan x="1893" dy="17.7">解，提高教学质量。抓好课堂40分钟的效率</tspan><tspan x="1893" dy="17.7">，在教学中贯彻全面性、系统性、准确性、社</tspan><tspan x="1893" dy="17.7">会性、科学性的原则。要做到精讲精练，概念</tspan><tspan x="1893" dy="17.7">清楚明白，条理清楚，重点突出，难点突破，</tspan><tspan x="1893" dy="17.7">切实做到落实教学三维目标。</tspan></text></g>
<g id="b4-4a"><rect class="f4" x="2198" y="3928" width="288" height="295.7" rx="6"/><text class="t s x4" x="2206" y="3943.6"><tspan x="2206">规范常规教学的过程，如：备课、上课、课后</tspan><tspan x="2206" dy="17.7">辅导、作业批改等，提高课堂效率，提高优秀</tspan><tspan x="2206" dy="17.7">课比例。具体的措施：统一备课，包括教学目</tspan><tspan x="2206" dy="17.7">标、教学重点难点的把握、以及难点的好的教</tspan><tspan x="2206" dy="17.7">法和教学策略都要研讨到位;统一上课，包括</tspan><tspan x="2206" dy="17.7">教学进度、上课的教学语言规范、学生的学习</tspan><tspan x="2206" dy="17.7">能力的培养、教学的基本环节等都要有严格的</tspan><tspan x="2206" dy="17.7">要求;统一课后辅导、作业批改，指的是作业</tspan><tspan x="2206" dy="17.7">的布置和教辅资料上的习题要有选择的使用，</tspan><tspan x="2206" dy="17.7">只选择适合我们学生并能适合大部分学生的作</tspan><tspan x="2206" dy="17.7">业布置绝不使用题海战术，给我们的学生增加</tspan><tspan x="2206" dy="17.7">学习负担，并做到每做必批，并对个别同学进</tspan><tspan x="2206" dy="17.7">行面批帮助他们克服学习上的障碍，以对不同</tspan><tspan x="2206" dy="17.7">层次的学生教师也要采取不同的辅导策略，因</tspan><tspan x="2206" dy="17.7">材施教的为学生进行"提优补差"，让我们的学</tspan><tspan x="2206" dy="17.7">生保持学习化学的积极性。</tspan></text></g>

<g id="b5-l1"><rect class="f5" x="660.8" y="4154.7" width="123.6" height="30" rx="6"/><text class="t s1 x5" x="668" y="4170">一、 班级基本情况</text></g>
<g id="b5-1"><rect class="f5" x="345.8" y="4110" width="289" height="119.4" rx="6"/><text class="t s1 x5" x="353" y="4125"><tspan x="353">本学期担任高二年级两个文科班的历史教学。</tspan><tspan x="353" dy="17.7">本年级为首批实行新课改的年级,使用人教社</tspan><tspan x="353" dy="17.7">新教材,并将面临新的学业测试和新的高考。</tspan><tspan x="353" dy="17.7">本期教学任务为完成选修一、选修三的新课教</tspan><tspan x="353" dy="17.7">学,必修1-3三本历史教材复习,迎接全省学业</tspan><tspan x="353" dy="17.7">测评考试。</tspan></text></g>
<g id="b5-l2"><rect class="f5" x="619.5" y="4399.5" width="165" height="30" rx="6"/><text class="t s1 x5" x="627" y="4414.5">二、 基本理念和教学目标</text></g>
<g id="b5-2a"><rect class="f5" x="304.9" y="4259" width="288" height="49" rx="6"/><text class="t s1 x5" x="312" y="4274.5"><tspan x="312">1、 在上学期学习基础上， 继续狠抓基础知识</tspan><tspan x="312" dy="17.7">。</tspan></text></g>
<g id="b5-2b"><rect class="f5" x="304.9" y="4337.8" width="288" height="48.8" rx="6"/><text class="t s1 x5" x="312" y="4353.7"><tspan x="312">2、 提高课堂效率， 争取每一堂课使学生都有</tspan><tspan x="312" dy="17.7">不同收获， 全面调动学习兴趣。</tspan></text></g>
<g id="b5-2c"><rect class="f5" x="304.9" y="4416.4" width="288" height="66.2" rx="6"/><text class="t s1 x5" x="312" y="4431.8"><tspan x="312">3、 扎实打好基础， 授课落实主干知识， 把重</tspan><tspan x="312" dy="17.7">难点分析透彻， 同时注重能力方面的.培养，</tspan><tspan x="312" dy="17.7">如阅读、 分析、 归纳等历史能力。</tspan></text></g>
<g id="b5-2d"><rect class="f5" x="304.9" y="4513" width="288" height="66" rx="6"/><text class="t s1 x5" x="312" y="4528"><tspan x="312">4、 帮助学生培养良好的学习习惯。 如上课认</tspan><tspan x="312" dy="17.7">真听讲并做好笔记， 独立思考的习惯、 错题整</tspan><tspan x="312" dy="17.7">理、 课前预习、 课后复习等等。</tspan></text></g>
<g id="b5-l3"><rect class="f5" x="660.8" y="5087.6" width="123.6" height="30.3" rx="6"/><text class="t s1 x5" x="668" y="5103">三、 主要教学措施</text></g>
<g id="b5-3a"><rect class="f5" x="345.8" y="4609" width="289" height="66.6" rx="6"/><text class="t s1 x5" x="353" y="4624"><tspan x="353">1、 努力学习新的教学理念,更新教育思想,认</tspan><tspan x="353" dy="17.7">真研究课标、 教材、 教法、 学法,努力提高教</tspan><tspan x="353" dy="17.7">学效度。</tspan></text></g>
<g id="b5-3b"><rect class="f5" x="345.8" y="4705.5" width="289" height="83.5" rx="6"/><text class="t s1 x5" x="353" y="4721"><tspan x="353">2、 狠抓学风建设,管理好自己的课堂,加强方</tspan><tspan x="353" dy="17.7">法指导,培养学生良好的学习习惯;以高三第一</tspan><tspan x="353" dy="17.7">轮复习的要求来进行高二历史教学;真正做到</tspan><tspan x="353" dy="17.7">常规教学落到实处。</tspan></text></g>
<g id="b5-3c"><rect class="f5" x="345.8" y="4819.4" width="289" height="65.6" rx="6"/><text class="t s1 x5" x="353" y="4834.8"><tspan x="353">3、 关于考试： 按照年级组的统一要求,认真组</tspan><tspan x="353" dy="17.7">织好每一次阶段考试,做到精心命题,细心阅卷,</tspan><tspan x="353" dy="17.7">认真讲评。</tspan></text></g>
<g id="b5-3d"><rect class="f5" x="345.8" y="4915.3" width="289" height="84.2" rx="6"/><text class="t s1 x5" x="353" y="4931"><tspan x="353">4、 关于作业： 要求学生按进度及时按质、 按</tspan><tspan x="353" dy="17.7">量完成好作业， 教师平时加强监督,按时、 按</tspan><tspan x="353" dy="17.7">要求批改好作业。 通过练习、 检测发现学生的</tspan><tspan x="353" dy="17.7">不足， 做好评讲， 解决学生的存在问题。</tspan></text></g>
<g id="b5-3e"><rect class="f5" x="345.8" y="5030" width="289" height="83.8" rx="6"/><text class="t s1 x5" x="353" y="5044.8"><tspan x="353">5、 使用多种教学手段， 激发学生的学习兴趣</tspan><tspan x="353" dy="17.7">， 使学生主动参与教学过程， 从而掌握基础知</tspan><tspan x="353" dy="17.7">识， 养成能力， 形成正确的情感、 态度、 价值</tspan><tspan x="353" dy="17.7">观。</tspan></text></g>
<g id="b5-3f"><rect class="f5" x="345.8" y="5144" width="289" height="137" rx="6"/><text class="t s1 x5" x="353" y="5158.7"><tspan x="353">6、 努力实现课堂精讲。 在学生预先预习的基</tspan><tspan x="353" dy="17.7">础上老师在课堂上只讲重点， 讲难点， 解释疑</tspan><tspan x="353" dy="17.7">点， 即学生理解不了的， 学生归纳不了的， 学</tspan><tspan x="353" dy="17.7">生运用不了的， 对过易、 过难、 过偏的不讲。</tspan><tspan x="353" dy="17.7">把课堂的关注点由"这节课我讲了多少"转移到</tspan><tspan x="353" dy="17.7">"这堂课学生提高了多少"上来， 以高考为目标</tspan><tspan x="353" dy="17.7">要讲出方法， 讲出规律， 讲出能力。</tspan></text></g>
<g id="b5-3g"><rect class="f5" x="345.8" y="5310.8" width="289" height="65.5" rx="6"/><text class="t s1 x5" x="353" y="5326"><tspan x="353">7、 强化贯彻， 重在坚持。 细节决定成败， 任</tspan><tspan x="353" dy="17.7">何事情都一样， 重在落实， 贵在坚持。 上课+</tspan><tspan x="353" dy="17.7">不落实=0， 布置作业+不检查=0。</tspan></text></g>
<g id="b5-3h"><rect class="f5" x="345.8" y="5407.5" width="289" height="83.5" rx="6"/><text class="t s1 x5" x="353" y="5422.6"><tspan x="353">8、 高度关注新课改动态， 了解各省的新课程</tspan><tspan x="353" dy="17.7">教学经验， 积极吸收教改成果， 尤其要及时关</tspan><tspan x="353" dy="17.7">注湖北省课改精神及进展情况， 适当调整历史</tspan><tspan x="353" dy="17.7">教学以顺应新课程改革。</tspan></text></g>
<g id="b5-3i"><rect class="f5" x="345.8" y="5521" width="289" height="84" rx="6"/><text class="t s1 x5" x="353" y="5536.5"><tspan x="353">9、 加强对学生的学习指导。 在如何学如何进</tspan><tspan x="353" dy="17.7">行知识的归纳与整理、 如何提高身体水平和解</tspan><tspan x="353" dy="17.7">题技巧上多下功夫， 并组织学生进行学习经验</tspan><tspan x="353" dy="17.7">交流。</tspan></text></g>

<g id="b6-1"><rect class="f6" x="1852" y="4253.6" width="138.6" height="31" rx="6"/><text class="t s x6" x="1859" y="4269">★ 初中历史学习教育</text></g>
<g id="b6-2"><rect class="f6" x="1852" y="4314.6" width="188" height="31" rx="6"/><text class="t s x6" x="1859" y="4330">★ 历史备课教学任务计划5篇</text></g>
<g id="b6-3"><rect class="f6" x="1852" y="4375.5" width="215.7" height="31" rx="6"/><text class="t s x6" x="1859" y="4391">★ 历史教师备课教学工作计划5篇</text></g>
<g id="b6-4"><rect class="f6" x="1852" y="4436.5" width="215.7" height="31" rx="6"/><text class="t s x6" x="1859" y="4452">★ 历史备课教学个人工作计划5篇</text></g>
<g id="b6-5"><rect class="f6" x="1852" y="4497.4" width="262.5" height="31" rx="6"/><text class="t s x6" x="1859" y="4513">★ 关于初中历史备课组教学工作计划方案</text></g>
<g id="b6-6"><rect class="f6" x="1852" y="4558" width="243" height="31" rx="6"/><text class="t s x6" x="1859" y="4573.5">★ 八年级历史备课组教学工作计划5篇</text></g>
<g id="b6-7"><rect class="f6" x="1852" y="4619" width="221" height="31" rx="6"/><text class="t s x6" x="1859" y="4634.5">★ 关于七年级历史备课组教学计划</text></g>
<g id="b6-8"><rect class="f6" x="1852" y="4680" width="212" height="31" rx="6"/><text class="t s x6" x="1859" y="4695.5">★ 2021高二历史备课组教学计划</text></g>
<g id="b6-9"><rect class="f6" x="1852" y="4741" width="229.5" height="31" rx="6"/><text class="t s x6" x="1859" y="4756.5">★ 人教版高中历史教案通用模板5篇</text></g>
<g id="b6-10"><rect class="f6" x="1852" y="4802" width="188" height="31" rx="6"/><text class="t s x6" x="1859" y="4817.5">★ 政治通用教学工作计划5篇</text></g>
</g>
</svg>
